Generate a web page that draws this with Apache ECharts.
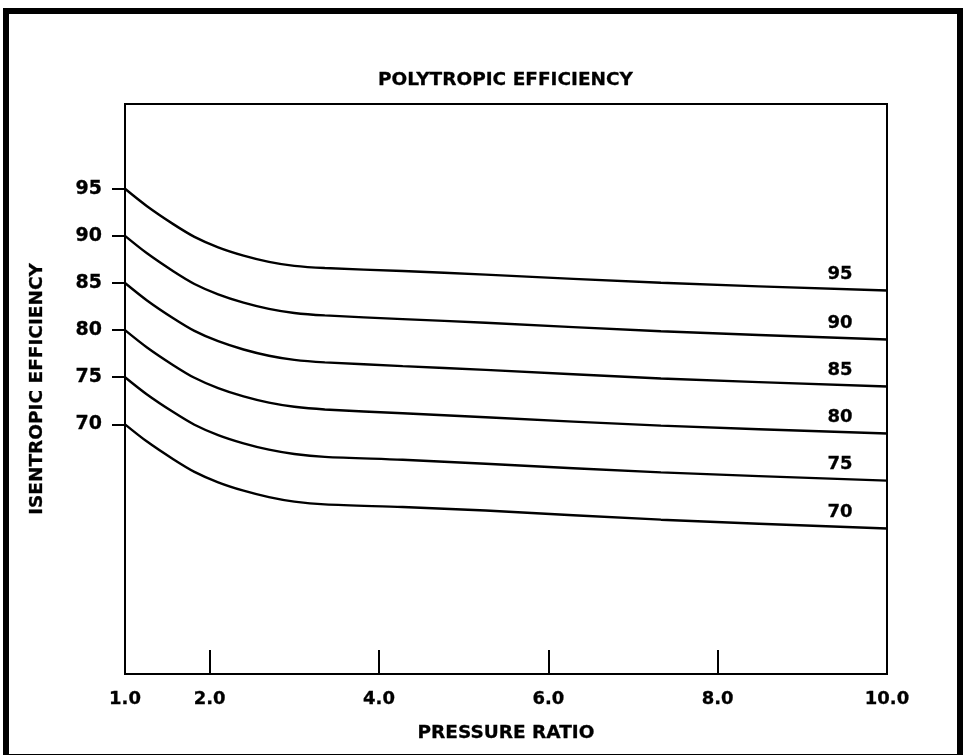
<!DOCTYPE html>
<html>
<head>
<meta charset="utf-8">
<title>Polytropic Efficiency</title>
<script src="https://cdn.jsdelivr.net/npm/echarts@6/dist/echarts.min.js"></script>
<style>
  html, body { margin: 0; padding: 0; background: #ffffff; }
  #chart { width: 964px; height: 755px; }
</style>
</head>
<body>
<div id="chart"></div>
<script>
// Polytropic efficiency of each curve (curve labels)
const polytropic = [95, 90, 85, 80, 75, 70];

// Pressure ratio sample points along each curve
const pressureRatio = [1.0, 1.26, 1.57, 1.82, 2.10, 2.40, 2.70, 3.00, 3.36, 4.28, 5.26, 7.33, 10.0];

// Isentropic efficiency for each polytropic efficiency
const eff95 = [95, 93.15, 91.25, 89.90, 88.79, 87.91, 87.25, 86.82, 86.59, 86.27, 85.89, 85.02, 84.20];
const eff90 = [90, 88.15, 86.25, 84.90, 83.80, 82.92, 82.26, 81.82, 81.56, 81.17, 80.78, 79.88, 79.00];
const eff85 = [85, 83.15, 81.26, 79.92, 78.82, 77.94, 77.28, 76.84, 76.58, 76.18, 75.78, 74.87, 74.01];
const eff80 = [80, 78.16, 76.28, 74.94, 73.84, 72.96, 72.30, 71.86, 71.58, 71.17, 70.75, 69.86, 69.02];
const eff75 = [75, 73.17, 71.30, 69.96, 68.86, 67.98, 67.31, 66.85, 66.55, 66.24, 65.82, 64.90, 64.03];
const eff70 = [70, 68.17, 66.30, 64.96, 63.85, 62.96, 62.28, 61.80, 61.50, 61.22, 60.85, 59.88, 58.94];

// Axis ticks
const xTickLabels = [1, 2, 4, 6, 8, 10];
const xTickMarks = [2, 4, 6, 8];
const yTickLabels = [70, 75, 80, 85, 90, 95];

const curves = [eff95, eff90, eff85, eff80, eff75, eff70];

const FONT = 'DejaVu Sans';
// heavy plotter-style lettering
const heavyText = (size) => ({
  fontFamily: FONT, fontWeight: 'bold', fontSize: size, color: '#000',
  textBorderColor: '#000', textBorderWidth: 0.3
});

const chart = echarts.init(document.getElementById('chart'), null, { renderer: 'canvas' });

const series = curves.map((vals, i) => ({
  name: String(polytropic[i]),
  type: 'line',
  data: pressureRatio.map((x, j) => [x, vals[j]]),
  smooth: 0.3,
  showSymbol: false,
  lineStyle: { color: '#000', width: 2.4 },
  endLabel: Object.assign({
    show: true,
    formatter: '{a}',
    align: 'center',
    verticalAlign: 'middle',
    offset: [-55, -16]
  }, heavyText(18)),
  silent: true,
  animation: false
}));

chart.setOption({
  animation: false,
  backgroundColor: '#ffffff',
  title: {
    text: 'POLYTROPIC EFFICIENCY',
    left: 373,
    top: 66,
    textStyle: heavyText(18.5)
  },
  grid: {
    left: 125, right: 77, top: 104, bottom: 81,
    show: true, borderColor: '#000', borderWidth: 2
  },
  xAxis: {
    type: 'value',
    min: 1, max: 10,
    name: 'PRESSURE RATIO',
    nameLocation: 'middle',
    nameGap: 50,
    nameTextStyle: heavyText(18.5),
    axisLine: { lineStyle: { color: '#000', width: 2 } },
    axisTick: { inside: true, length: 24, customValues: xTickMarks, lineStyle: { color: '#000', width: 2 } },
    axisLabel: Object.assign({
      customValues: xTickLabels,
      formatter: v => v.toFixed(1),
      margin: 16
    }, heavyText(18)),
    splitLine: { show: false }
  },
  yAxis: {
    type: 'value',
    min: 43.5, max: 104,
    name: 'ISENTROPIC EFFICIENCY',
    nameLocation: 'middle',
    nameGap: 78,
    nameTextStyle: heavyText(18.5),
    axisLine: { show: true, lineStyle: { color: '#000', width: 2 } },
    axisTick: { show: true, length: 13, customValues: yTickLabels, lineStyle: { color: '#000', width: 2 } },
    axisLabel: Object.assign({
      customValues: yTickLabels,
      margin: 23
    }, heavyText(19)),
    splitLine: { show: false }
  },
  graphic: [{
    type: 'rect',
    shape: { x: 6, y: 11, width: 954, height: 746 },
    style: { fill: 'none', stroke: '#000', lineWidth: 6 },
    silent: true,
    z: 100
  }],
  series: series
});
</script>
</body>
</html>
